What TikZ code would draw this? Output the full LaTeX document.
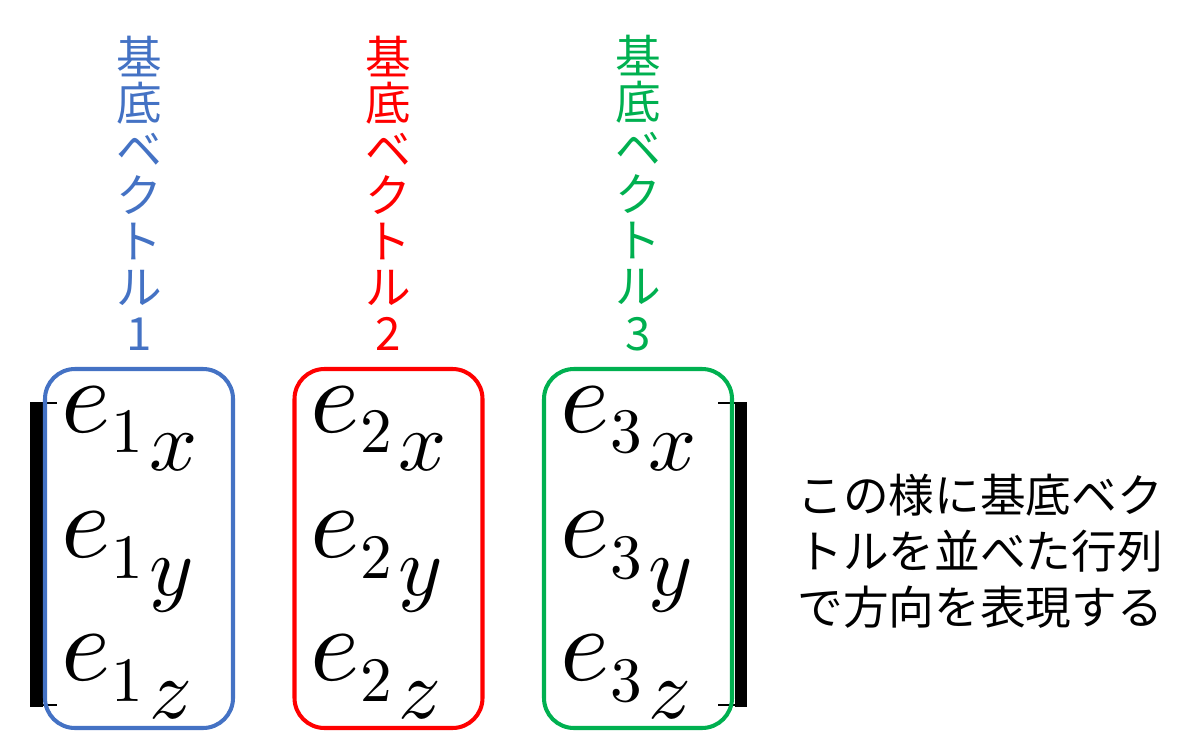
\documentclass[tikz,border=0pt]{standalone}
\usepackage{fontspec}
\usepackage{amsmath}
\usepackage{unicode-math}
\usepackage{tikz}
\newfontfamily\jpfont{Noto Sans CJK JP}
\definecolor{vblue}{HTML}{4472C4}
\definecolor{vred}{HTML}{FF0000}
\definecolor{vgreen}{HTML}{00B050}
\tikzset{
	vecbox/.style={line width=2.3pt, rounded corners=0.6cm},
	veclabel/.style={font=\jpfont\fontsize{26}{26.2}\selectfont, align=center, inner sep=0pt},
	entry/.style={font=\fontsize{60}{72}\selectfont, anchor=base west, inner sep=0pt},
	brackettick/.style={line width=1.2pt}
}

\begin{document}
\begin{tikzpicture}
	\useasboundingbox (0,0) rectangle (24,14.92);

	\fill (0.60,0.78) rectangle (0.86,6.88);
	\draw[brackettick] (0.86,6.86) -- (1.14,6.86);
	\draw[brackettick] (0.86,0.82) -- (1.14,0.82);
	\fill (14.70,0.78) rectangle (14.94,6.88);
	\draw[brackettick] (14.36,6.86) -- (14.70,6.86);
	\draw[brackettick] (14.36,0.82) -- (14.70,0.82);

	\foreach \i/\col in {1/vblue,2/vred,3/vgreen} {
		\pgfmathsetmacro{\dx}{4.99*(\i-1)}
		\draw[vecbox, \col] (0.9+\dx,0.36) rectangle (4.66+\dx,7.54);
		\node[veclabel, text=\col] (lab\i) at (2.78+\dx,11.06) {基\\底\\ベ\\ク\\ト\\ル\\\i};
		\foreach \comp/\y in {x/6.28,y/3.78,z/1.32} {
			\node[entry] (e\i\comp) at (1.22+\dx,\y) {$e$\kern0.02cm\raisebox{-0.42cm}{\fontsize{36}{40}\selectfont$\i$}\kern0.12cm\raisebox{-0.76cm}{\fontsize{48}{50}\selectfont$\comp$}};
		}
	}

	\node[veclabel, align=left, anchor=west, font=\jpfont\fontsize{26}{31.9}\selectfont] (note) at (15.94,3.90) {この様に基底ベク\\トルを並べた行列\\で方向を表現する};
\end{tikzpicture}
\end{document}
